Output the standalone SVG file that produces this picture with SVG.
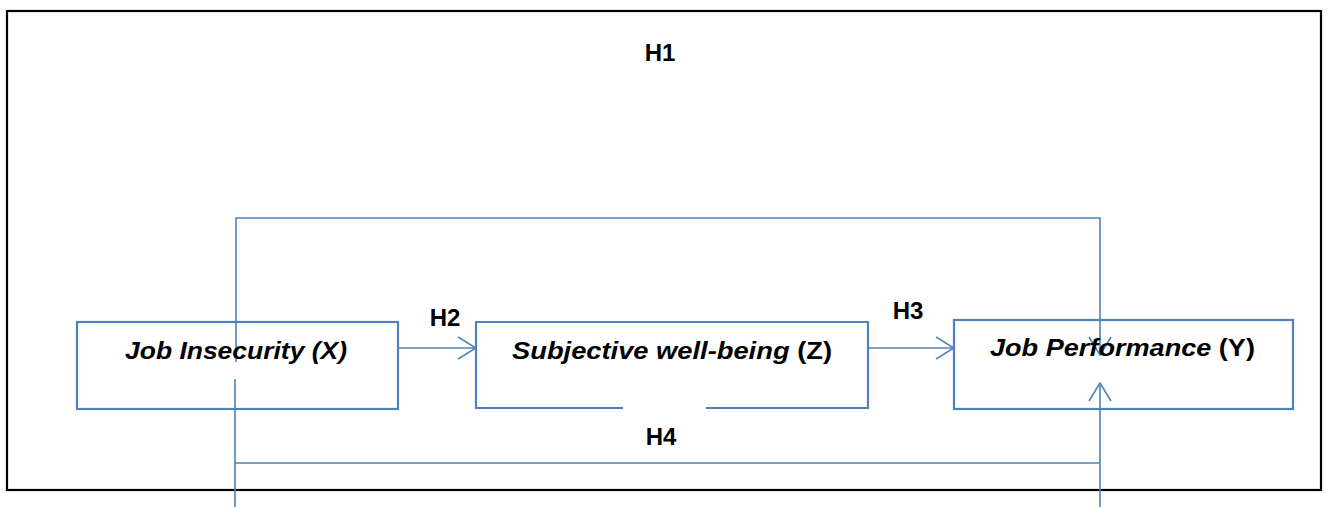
<svg xmlns="http://www.w3.org/2000/svg" width="1328" height="507" viewBox="0 0 1328 507">
<style>
.box{fill:none;stroke:#4F81BD;stroke-width:2.2}
.ln{fill:none;stroke:#4F81BD;stroke-width:1.6}
.lbl{font-family:"Liberation Sans",Arial,sans-serif;font-weight:bold;font-size:24px;fill:#000}
.nt{font-family:"Liberation Sans",Arial,sans-serif;font-weight:bold;font-size:23px;fill:#000}
.it{font-style:italic}
</style>
<defs>
<marker id="arr" viewBox="0 0 20 24" refX="19" refY="12" markerWidth="20" markerHeight="24" markerUnits="userSpaceOnUse" orient="auto">
<path d="M1,1 L19,12 L1,23" fill="none" stroke="#4F81BD" stroke-width="1.6"/>
</marker>
</defs>
<rect width="1328" height="507" fill="#fff"/>
<rect id="frame" x="7" y="11" width="1314" height="479" fill="none" stroke="#000" stroke-width="2.2"/>
<g id="connectors">
<path id="h1" class="ln" d="M236,362 V218 H1100 V355" marker-end="url(#arr)"/>
<path id="h2" class="ln" d="M398,348 H476" marker-end="url(#arr)"/>
<path id="h3" class="ln" d="M868,348 H954" marker-end="url(#arr)"/>
<path id="h4a" class="ln" d="M235,379 V507 M235,463 H1100"/>
<path id="h4b" class="ln" d="M1100,507 V383" marker-end="url(#arr)"/>
</g>
<g id="labels">
<text class="lbl" x="660" y="61" text-anchor="middle">H1</text>
<text class="lbl" x="445" y="326" text-anchor="middle">H2</text>
<text class="lbl" x="908" y="319" text-anchor="middle">H3</text>
<text class="lbl" x="661" y="445" text-anchor="middle">H4</text>
</g>
<g id="node-x">
<rect class="box" x="77" y="322" width="321" height="87"/>
<text class="nt it" x="125" y="359" textLength="222" lengthAdjust="spacingAndGlyphs">Job Insecurity (X)</text>
</g>
<g id="node-z">
<path class="box" d="M623,408 H476 V322 H868 V408 H706"/>
<text class="nt" x="512" y="359" textLength="320" lengthAdjust="spacingAndGlyphs"><tspan class="it">Subjective well-being</tspan> (Z)</text>
</g>
<g id="node-y">
<rect class="box" x="954" y="320" width="339" height="89"/>
<text class="nt" x="990" y="356" textLength="265" lengthAdjust="spacingAndGlyphs"><tspan class="it">Job Performance</tspan> (Y)</text>
</g>
</svg>
